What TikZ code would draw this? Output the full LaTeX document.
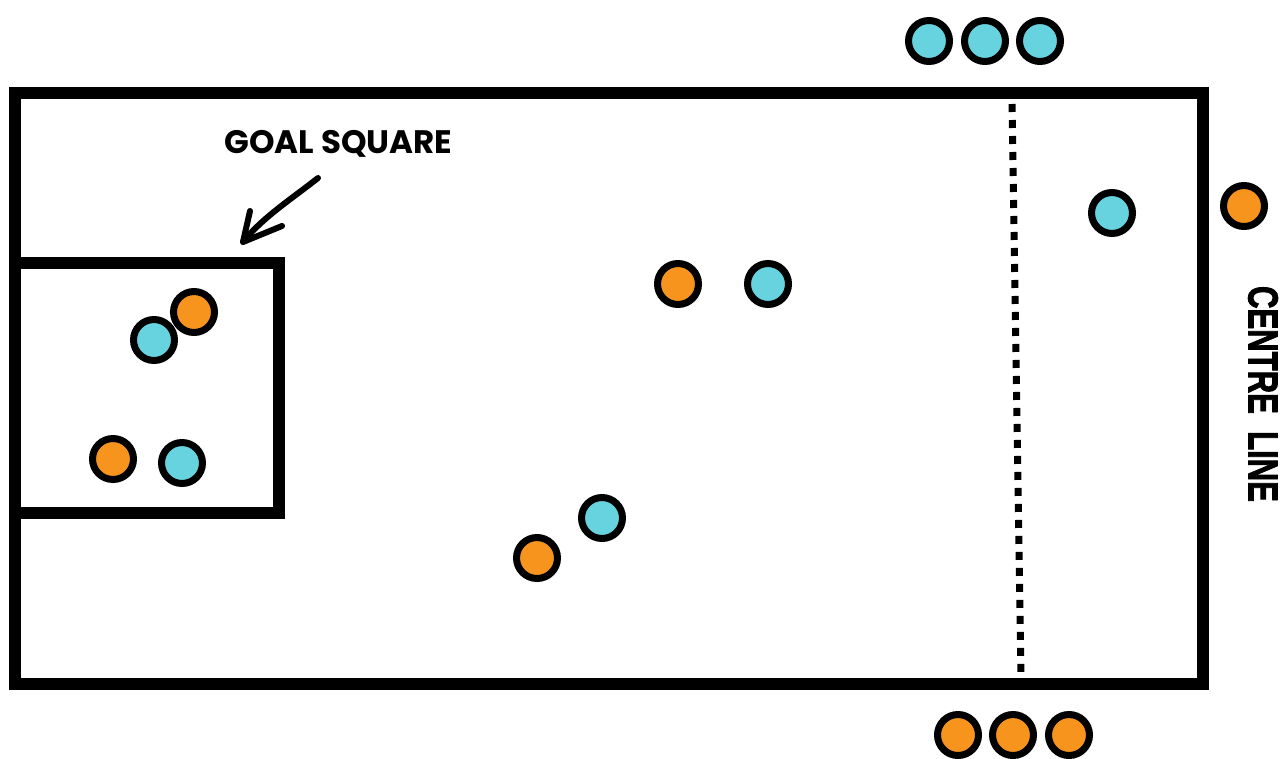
\documentclass[tikz,border=0pt]{standalone}
\usepackage{fontspec}
\setmainfont{Poppins}
\newfontfamily\labfont{Poppins}
\newfontfamily\cenfont[BoldFeatures={FakeBold=2.5}]{Liberation Sans}
\definecolor{teamcyan}{HTML}{66D3DE}
\definecolor{teamorange}{HTML}{F7941D}
\tikzset{
  player/.style={circle, draw=black, line width=7pt, inner sep=0pt, minimum size=41pt},
  cyanp/.style={player, fill=teamcyan},
  orangep/.style={player, fill=teamorange},
  fieldline/.style={line width=12pt, line join=miter},
}
\begin{document}
\begin{tikzpicture}[x=1pt,y=-1pt]
\useasboundingbox (0,0) rectangle (1282,758);
% field
\draw[fieldline] (15,93) rectangle (1203,684);
% goal square
\draw[fieldline] (15,263) -- (279,263) -- (279,513) -- (15,513);
% centre line (dotted)
\draw[line width=7pt, dash pattern=on 8pt off 8pt] (1012,104) -- (1021,678);
% labels
\node[font=\labfont\bfseries\fontsize{32.5}{32.5}\selectfont, inner sep=0pt, anchor=base] (goal) at (338.5,153) {GOAL SQUARE};
\node[font=\cenfont\bfseries\fontsize{42}{42}\selectfont, inner sep=0pt, rotate=-90, xscale=0.74] (centre) at (1263,394) {CENTRE\ \ LINE};
% arrow
\coordinate (as) at (318,178);
\coordinate (at) at (243,242);
\draw[line width=6pt, line cap=round, line join=round] (as) .. controls (290,200) and (262,218) .. (at);
\draw[line width=6pt, line cap=round, line join=round] (250,211) -- (at) -- (282,226);
% players in goal square
\node[orangep] (o1) at (194,312) {};
\node[cyanp] (c1) at (154,340) {};
\node[orangep] (o2) at (113,459) {};
\node[cyanp] (c2) at (182,463) {};
% mid players
\node[orangep] (o3) at (678,284) {};
\node[cyanp] (c3) at (768,284) {};
\node[cyanp] (c4) at (602,518) {};
\node[orangep] (o4) at (537,558) {};
\node[cyanp] (c5) at (1112,213) {};
\node[orangep] (o5) at (1244,206) {};
% benches
\node[cyanp] (b1) at (929,41) {};
\node[cyanp] (b2) at (985,41) {};
\node[cyanp] (b3) at (1040,41) {};
\node[orangep] (p1) at (958,735) {};
\node[orangep] (p2) at (1013,735) {};
\node[orangep] (p3) at (1069,735) {};
\end{tikzpicture}
\end{document}
